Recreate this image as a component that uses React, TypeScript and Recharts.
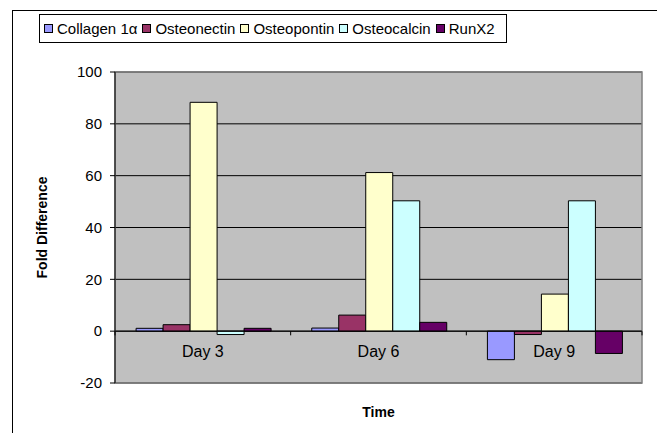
import React from "react";
import {
  BarChart, Bar, XAxis, YAxis, CartesianGrid, Legend, ReferenceLine, ReferenceArea,
} from "recharts";

const categories = ["Day 3", "Day 6", "Day 9"];
const collagen = [1.1, 1.2, -11];
const osteonectin = [2.5, 6.2, -1.3];
const osteopontin = [88.3, 61.2, 14.3];
const osteocalcin = [-1.3, 50.3, 50.3];
const runx2 = [1.1, 3.4, -8.6];
const yTicks = [-20, 0, 20, 40, 60, 80, 100];

const SERIES = [
  { key: "collagen", name: "Collagen 1\u03b1", color: "#9999FF" },
  { key: "osteonectin", name: "Osteonectin", color: "#993366" },
  { key: "osteopontin", name: "Osteopontin", color: "#FFFFCC" },
  { key: "osteocalcin", name: "Osteocalcin", color: "#CCFFFF" },
  { key: "runx2", name: "RunX2", color: "#660066" },
];

const DATA = categories.map((day, i) => ({
  day,
  collagen: collagen[i],
  osteonectin: osteonectin[i],
  osteopontin: osteopontin[i],
  osteocalcin: osteocalcin[i],
  runx2: runx2[i],
}));

const FONT = "'Liberation Sans', Arial, sans-serif";
const W = 657;
const H = 433;
const Y_MIN = -20;
const Y_MAX = 100;
const PLOT_H = 310; // plot area height, used to place category labels on the zero line
const CAT_W = 527 / categories.length;
const ZERO_SHIFT = (PLOT_H * (0 - Y_MIN)) / (Y_MAX - Y_MIN);

const DayTick = ({ x, y, payload, index }: any) => {
  const zy = y - ZERO_SHIFT;
  return (
    <g>
      <line x1={x - CAT_W / 2} x2={x - CAT_W / 2} y1={zy} y2={zy + 4} stroke="#000" />
      {index === categories.length - 1 && (
        <line x1={x + CAT_W / 2} x2={x + CAT_W / 2} y1={zy} y2={zy + 4} stroke="#000" />
      )}
      <text x={x} y={zy + 26} textAnchor="middle" fontSize={16} fontFamily={FONT} fill="#000">
        {payload.value}
      </text>
    </g>
  );
};

const LegendBox = () => (
  <div
    style={{
      display: "inline-flex",
      alignItems: "center",
      border: "1px solid #000",
      background: "#fff",
      padding: "5px 6px 5px 4px",
      fontFamily: FONT,
      fontSize: 15,
      color: "#000",
      whiteSpace: "nowrap",
    }}
  >
    {SERIES.map((s) => (
      <div key={s.key} style={{ display: "flex", alignItems: "center", marginRight: 5 }}>
        <div style={{ width: 7, height: 7, background: s.color, border: "1px solid #000", marginRight: 4 }} />
        <span>{s.name}</span>
      </div>
    ))}
  </div>
);

export default function App() {
  return (
    <div style={{ position: "absolute", left: 0, top: 0, width: W, height: H, overflow: "hidden", background: "#fff" }}>
      <div style={{ position: "absolute", left: 12, top: 10, width: 700, height: 500, border: "1px solid #000" }} />
      <BarChart
        width={W}
        height={H}
        data={DATA}
        margin={{ top: 43, right: 15, left: 20, bottom: 20 }}
        barCategoryGap="12%"
        barGap={0}
        style={{ position: "absolute", left: 0, top: 0 }}
      >
        <CartesianGrid fill="#C0C0C0" stroke="#000" vertical={false} />
        <ReferenceArea y1={Y_MIN} y2={Y_MAX} fill="none" stroke="#808080" strokeWidth={1.5} ifOverflow="visible" />
        <XAxis
          dataKey="day"
          axisLine={false}
          tickLine={false}
          tickSize={0}
          tickMargin={0}
          height={30}
          tick={<DayTick />}
          label={{ value: "Time", position: "insideBottom", offset: -4, fontSize: 14, fontWeight: "bold", fontFamily: FONT, fill: "#000" }}
        />
        <YAxis
          domain={[Y_MIN, Y_MAX]}
          ticks={yTicks}
          width={95}
          axisLine={{ stroke: "#000" }}
          tickLine={{ stroke: "#000" }}
          tickSize={5}
          tickMargin={8}
          tick={{ fontSize: 15, fontFamily: FONT, fill: "#000" }}
          label={{
            value: "Fold Difference",
            angle: -90,
            position: "insideLeft",
            offset: 22,
            fontSize: 14,
            fontWeight: "bold",
            fontFamily: FONT,
            fill: "#000",
            style: { textAnchor: "middle" },
          }}
        />
        <ReferenceLine y={0} stroke="#000" />
        <Legend verticalAlign="top" content={<LegendBox />} wrapperStyle={{ top: 14, left: 39, width: "auto" }} />
        {SERIES.map((s) => (
          <Bar key={s.key} dataKey={s.key} name={s.name} fill={s.color} stroke="#000" strokeWidth={1} isAnimationActive={false} />
        ))}
      </BarChart>
    </div>
  );
}
